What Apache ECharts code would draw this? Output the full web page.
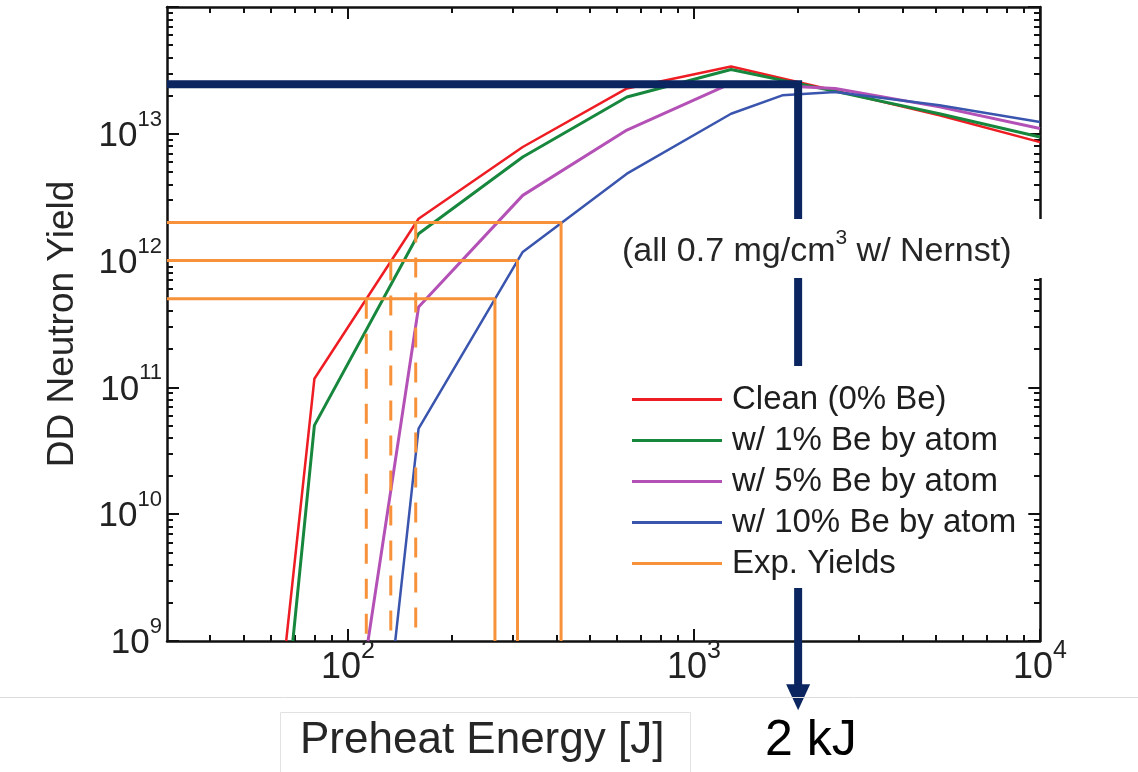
<!DOCTYPE html>
<html>
<head>
<meta charset="utf-8">
<script src="https://cdn.jsdelivr.net/npm/echarts@6/dist/echarts.min.js"></script>
<style>
  html, body { margin: 0; padding: 0; background: #fff; }
  #chart { width: 1138px; height: 772px; }
</style>
</head>
<body>
<div id="chart"></div>
<script>
// Simulated DD neutron yield vs. preheat energy [J] for each Be dopant level
const cleanEnergy = [66.3, 80, 160, 320, 640, 1280, 2560, 5120, 10000];
const cleanYield  = [1e9, 1.17e11, 2.14e12, 7.87e12, 2.28e13, 3.40e13, 2.19e13, 1.40e13, 8.6e12];

const be1Energy = [69.3, 80, 160, 320, 640, 1280, 2560, 5120, 10000];
const be1Yield  = [1e9, 5.02e10, 1.63e12, 6.56e12, 1.95e13, 3.21e13, 2.16e13, 1.44e13, 9.44e12];

const be5Energy = [114.3, 160, 320, 640, 1280, 2560, 5120, 10000];
const be5Yield  = [1e9, 4.30e11, 3.27e12, 1.07e13, 2.50e13, 2.28e13, 1.63e13, 1.10e13];

const be10Energy = [137, 160, 320, 640, 1280, 1800, 2560, 5120, 10000];
const be10Yield  = [1e9, 4.73e10, 1.17e12, 4.85e12, 1.44e13, 2.01e13, 2.14e13, 1.68e13, 1.24e13];

// Measured yields and the preheat energies they imply on the clean and 10% curves
const expYields      = [5e11, 1e12, 2e12];
const expCleanEnergy = [113, 133, 157];
const expBe10Energy  = [266, 309, 413];

// 2 kJ operating point marker
const markEnergy    = 2000;
const markYield     = 2.46e13;
const arrowTipYield = 3.6e8;

// Axis ranges and ticks
const xRange = [30, 10000];
const yRange = [1e9, 1e14];
const xMajorTicks  = [100, 1000, 10000];
const xLabelValues = [100, 1000, 10000];
const yMajorTicks  = [1e9, 1e10, 1e11, 1e12, 1e13, 1e14];
const yLabelValues = [1e9, 1e10, 1e11, 1e12, 1e13];

const FONT = '"Liberation Sans", Arial, Helvetica, sans-serif';
const INK = '#111111';
const NAVY = '#0b2560';
const ORANGE = '#f7923a';

function minorTicks(majors, lo, hi) {
  const out = [];
  majors.forEach(function (m) {
    for (let k = 2; k <= 9; k++) {
      const v = (m / 10) * k;
      if (v > lo && v < hi) out.push(v);
    }
  });
  return out;
}

function powerLabel(value) {
  const e = Math.round(Math.log10(value));
  return '{b|10}{s|' + e + '}';
}

// One axis draws the frame edge, major ticks and labels; a twin draws the minor ticks.
function axisPair(position, range, majors, labelValues, labelStyle) {
  const minors = minorTicks(majors, range[0], range[1]);
  const major = {
    type: 'log', logBase: 10, min: range[0], max: range[1], position: position,
    axisLine: { show: true, onZero: false, lineStyle: { color: INK, width: 2.5 } },
    axisTick: { show: true, inside: true, length: 12, customValues: majors, lineStyle: { color: INK, width: 2 } },
    minorTick: { show: false },
    splitLine: { show: false },
    axisLabel: labelValues ? Object.assign({
      show: true, customValues: labelValues, formatter: powerLabel, color: '#222', fontFamily: FONT
    }, labelStyle) : { show: false }
  };
  const minor = {
    type: 'log', logBase: 10, min: range[0], max: range[1], position: position,
    axisLine: { show: false, onZero: false },
    axisTick: { show: true, inside: true, length: 6, customValues: minors, lineStyle: { color: INK, width: 2 } },
    minorTick: { show: false },
    splitLine: { show: false },
    axisLabel: { show: false }
  };
  return [major, minor];
}

const xLabelStyle = {
  margin: 5,
  rich: {
    b: { fontSize: 36, lineHeight: 40, verticalAlign: 'bottom', color: '#222', fontFamily: FONT },
    s: { fontSize: 25, lineHeight: 25, verticalAlign: 'bottom', padding: [0, 0, 22, 0], color: '#222', fontFamily: FONT }
  }
};
const yLabelStyle = {
  margin: 5,
  rich: {
    b: { fontSize: 35, lineHeight: 40, verticalAlign: 'bottom', color: '#222', fontFamily: FONT },
    s: { fontSize: 22, lineHeight: 22, verticalAlign: 'bottom', padding: [0, 0, 23, 0], color: '#222', fontFamily: FONT }
  }
};

const xAxes = axisPair('bottom', xRange, xMajorTicks, xLabelValues, xLabelStyle)
  .concat(axisPair('top', xRange, xMajorTicks, null));
const yAxes = axisPair('left', yRange, yMajorTicks, yLabelValues, yLabelStyle)
  .concat(axisPair('right', yRange, yMajorTicks, null));

Object.assign(yAxes[0], {
  name: 'DD Neutron Yield',
  nameLocation: 'middle',
  nameGap: 86,
  nameRotate: 90,
  nameTextStyle: { fontSize: 37, color: '#262626', fontFamily: FONT }
});

function pairs(xs, ys) {
  return xs.map(function (x, i) { return [x, ys[i]]; });
}

function curve(name, xs, ys, color, width) {
  return {
    type: 'line', name: name, data: pairs(xs, ys), color: color,
    symbol: 'none', lineStyle: { color: color, width: width }, z: 2
  };
}

const series = [
  curve('Clean (0% Be)', cleanEnergy, cleanYield, '#ee1d23', 2.5),
  curve('w/ 1% Be by atom', be1Energy, be1Yield, '#17873d', 3),
  curve('w/ 5% Be by atom', be5Energy, be5Yield, '#b451b6', 3),
  curve('w/ 10% Be by atom', be10Energy, be10Yield, '#3a55ae', 2.5)
];

// Measured yields: level line out to the 10% curve, then down to the axis
expYields.forEach(function (y, i) {
  series.push({
    type: 'line', name: 'Exp. Yields', color: ORANGE, symbol: 'none', z: 2,
    lineStyle: { color: ORANGE, width: 3 },
    data: [[xRange[0], y], [expBe10Energy[i], y], [expBe10Energy[i], yRange[0]]]
  });
});
// Dashed drops where the clean curve reaches each measured yield
expYields.forEach(function (y, i) {
  series.push({
    type: 'line', name: 'Exp. Yields', color: ORANGE, symbol: 'none', z: 2,
    lineStyle: { color: ORANGE, width: 3, type: [20, 15] },
    data: [[expCleanEnergy[i], y], [expCleanEnergy[i], yRange[0]]]
  });
});

// 2 kJ marker with arrow running below the axis
series.push({
  type: 'line', color: NAVY, symbol: 'none', clip: false, z: 3,
  lineStyle: { color: NAVY, width: 8, join: 'miter' },
  itemStyle: { color: NAVY },
  data: [
    [xRange[0], markYield],
    [markEnergy, markYield],
    { value: [markEnergy, arrowTipYield], symbol: 'triangle', symbolSize: [24, 26], symbolRotate: 180 }
  ]
});

const option = {
  animation: false,
  backgroundColor: '#ffffff',
  grid: { left: 167, right: 98, top: 7, bottom: 131, containLabel: false, outerBoundsMode: 'none' },
  xAxis: xAxes,
  yAxis: yAxes,
  legend: {
    orient: 'vertical', left: 622, top: 366,
    padding: [17, 12, 8, 10],
    backgroundColor: '#ffffff',
    itemWidth: 90, itemHeight: 3, itemGap: 8,
    icon: 'rect', selectedMode: false, z: 10,
    data: ['Clean (0% Be)', 'w/ 1% Be by atom', 'w/ 5% Be by atom', 'w/ 10% Be by atom', 'Exp. Yields'],
    textStyle: { fontSize: 33, lineHeight: 32, color: '#1e1e1e', fontFamily: FONT, padding: [0, 0, 0, 5] }
  },
  series: series,
  graphic: [
    { type: 'line', silent: true, z: 20,
      shape: { x1: 0, y1: 697.5, x2: 1138, y2: 697.5 },
      style: { stroke: '#dcdcdc', lineWidth: 1 } },
    { type: 'rect', silent: true, z: 20,
      shape: { x: 280.5, y: 712.5, width: 410, height: 70 },
      style: { fill: '#ffffff', stroke: '#e2e2e2', lineWidth: 1 } },
    { type: 'text', silent: true, z: 21, x: 300, y: 741,
      style: { text: 'Preheat Energy [J]', fontSize: 44, fontFamily: FONT, fill: '#262626', verticalAlign: 'middle' } },
    { type: 'text', silent: true, z: 21, x: 765, y: 741,
      style: { text: '2 kJ', fontSize: 50, fontFamily: FONT, fill: '#000000', verticalAlign: 'middle' } },
    { type: 'rect', silent: true, z: 20,
      shape: { x: 612, y: 219, width: 434, height: 59 },
      style: { fill: '#ffffff' } },
    { type: 'text', silent: true, z: 21, x: 622, y: 250,
      style: {
        text: '{a|(all 0.7 mg/cm}{s|3}{a| w/ Nernst)}',
        verticalAlign: 'middle', fill: '#262626', fontFamily: FONT,
        rich: {
          a: { fontSize: 34, lineHeight: 38, verticalAlign: 'bottom', fill: '#262626', fontFamily: FONT },
          s: { fontSize: 21, lineHeight: 21, verticalAlign: 'bottom', padding: [0, 0, 20, 0], fill: '#262626', fontFamily: FONT }
        }
      } }
  ]
};

const chart = echarts.init(document.getElementById('chart'), null, { renderer: 'canvas' });
chart.setOption(option);
</script>
</body>
</html>
